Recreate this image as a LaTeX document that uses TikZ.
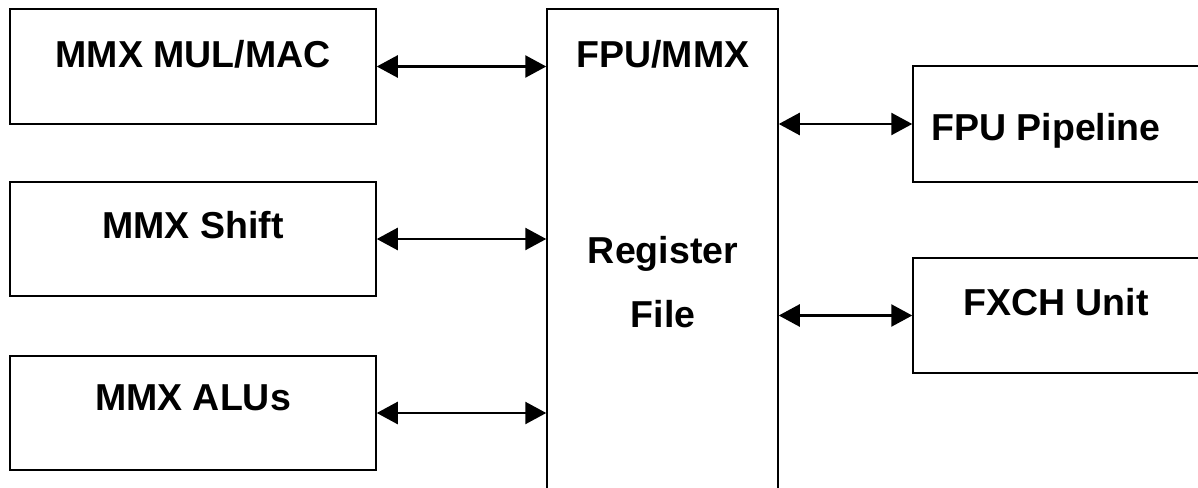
\documentclass[tikz,border=0pt]{standalone}
\usepackage{fontspec}
\setmainfont{Liberation Sans}
\usetikzlibrary{arrows.meta, calc}

\begin{document}
\begin{tikzpicture} [x = 1pt, y = -1pt, box/.style = {draw, rectangle, line width = 1.5pt, inner sep = 0pt},
  link/.style = {{Triangle[length = 21pt, width = 22pt]}-{Triangle[length = 21pt, width = 22pt]}, line width = 2.5pt},
  lbl/.style = {anchor = base, inner sep = 0pt, font = \fontsize{37.5}{45}\selectfont\bfseries}]

\useasboundingbox (0,0) rectangle (1198,487);

% left units
\node [box, minimum width = 366pt, minimum height = 115pt] (mul) at (193,66.5) {};
\node [box, minimum width = 366pt, minimum height = 114pt] (shift) at (193,239) {};
\node [box, minimum width = 366pt, minimum height = 114pt] (alu) at (193,413) {};

% register file
\node [box, minimum width = 231pt, minimum height = 491pt] (reg) at (662.5,254.5) {};

% right units
\node [box, minimum width = 292pt, minimum height = 116pt] (pipe) at (1059,124) {};
\node [box, minimum width = 292pt, minimum height = 115pt] (fxch) at (1059,315.5) {};

\node [lbl] (mult) at (193,67) {MMX MUL/MAC};
\node [lbl] (shiftt) at (193,238) {MMX Shift};
\node [lbl] (alut) at (193,410) {MMX ALUs};
\node [lbl] (regt1) at (663,67) {FPU/MMX};
\node [lbl] (regt2) at (663,263) {Register};
\node [lbl] (regt3) at (663,327) {File};
\node [lbl] (pipet) at (1046,140) {FPU Pipeline};
\node [lbl] (fxcht) at (1056,315) {FXCH Unit};

\draw [link] (mul.east) -- (mul.east -| reg.west);
\draw [link] (shift.east) -- (shift.east -| reg.west);
\draw [link] (alu.east) -- (alu.east -| reg.west);
\draw [link] (reg.east |- pipe.west) -- (pipe.west);
\draw [link] (reg.east |- fxch.west) -- (fxch.west);

\end{tikzpicture}
\end{document}
